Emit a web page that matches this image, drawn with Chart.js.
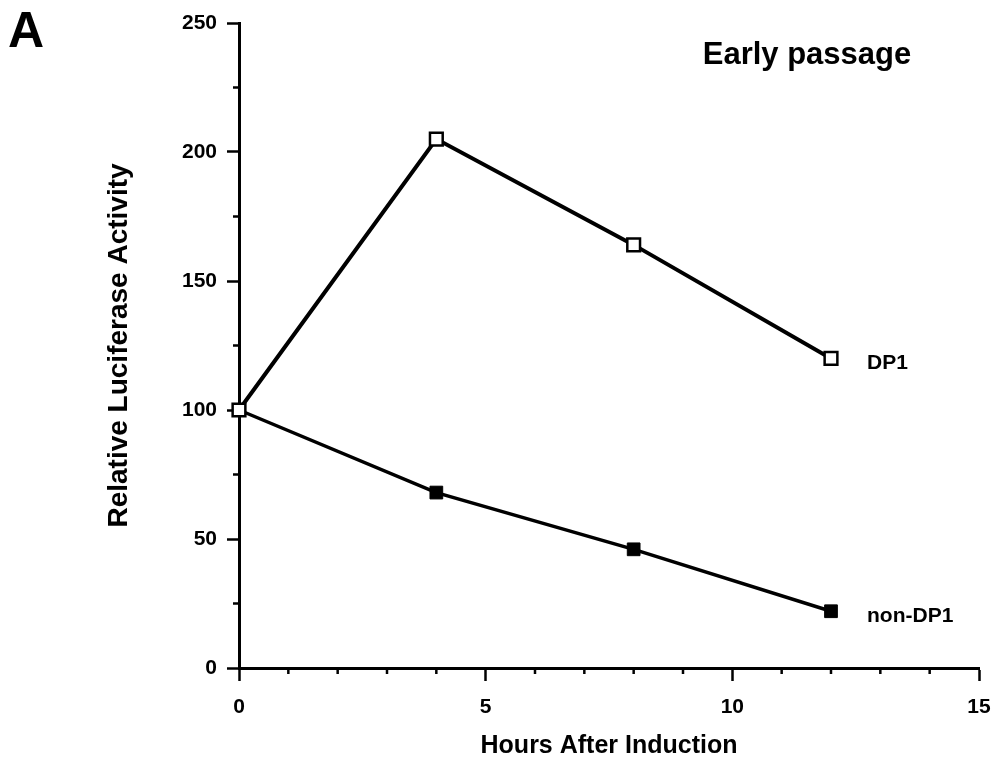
<!DOCTYPE html>
<html>
<head>
<meta charset="utf-8">
<script src="https://cdn.jsdelivr.net/npm/chart.js@4/dist/chart.umd.min.js"></script>
<style>
  html, body { margin: 0; padding: 0; background: #fff; }
  #wrap { position: relative; width: 1000px; height: 765px; }
</style>
</head>
<body>
<div id="wrap"><canvas id="myChart" width="1000" height="765"></canvas></div>
<script>
const hours = [0, 4, 8, 12];
const dp1 = [100, 205, 164, 120];
const nonDp1 = [100, 68, 46, 22];
const seriesNames = ['DP1', 'non-DP1'];
const xTicks = [0, 5, 10, 15];
const yTicks = [0, 50, 100, 150, 200, 250];

const FONT = '"Liberation Sans", Arial, Helvetica, sans-serif';

function toPoints(xs, ys) {
    return xs.map((x, i) => ({ x: x, y: ys[i] }));
}

// small outward minor ticks + text labels
const extras = {
    id: 'extras',
    afterDraw(chart) {
        const ctx = chart.ctx;
        const xs = chart.scales.x;
        const ys = chart.scales.y;
        const area = chart.chartArea;
        ctx.save();
        ctx.strokeStyle = '#000';
        ctx.lineWidth = 2.5;
        for (let v = xs.min; v <= xs.max; v += 1) {
            if (xTicks.includes(v)) continue;
            const px = xs.getPixelForValue(v);
            ctx.beginPath();
            ctx.moveTo(px, area.bottom);
            ctx.lineTo(px, area.bottom + 6);
            ctx.stroke();
        }
        for (let v = ys.min; v <= ys.max; v += 25) {
            if (yTicks.includes(v)) continue;
            const py = ys.getPixelForValue(v);
            ctx.beginPath();
            ctx.moveTo(area.left, py);
            ctx.lineTo(area.left - 6, py);
            ctx.stroke();
        }

        // series labels next to last point
        ctx.fillStyle = '#000';
        ctx.font = 'bold 21px ' + FONT;
        ctx.textAlign = 'left';
        ctx.textBaseline = 'middle';
        chart.data.datasets.forEach((ds, i) => {
            const meta = chart.getDatasetMeta(i);
            const last = meta.data[meta.data.length - 1];
            ctx.fillText(seriesNames[i], last.x + 36, last.y + 5);
        });

        ctx.font = 'bold 31px ' + FONT;
        ctx.textAlign = 'center';
        ctx.fillText('Early passage', area.right - 172, area.top + 32);

        ctx.font = 'bold 50px ' + FONT;
        ctx.textAlign = 'left';
        ctx.textBaseline = 'alphabetic';
        ctx.fillText('A', 8, 47);
        ctx.restore();
    }
};

var ctx = document.getElementById('myChart').getContext('2d');

var myChart = new Chart(ctx, { // eslint-disable-line
    type: 'line',
    data: {
        datasets: [
            {
                label: seriesNames[0],
                data: toPoints(hours, dp1),
                borderColor: '#000',
                borderWidth: 4,
                pointStyle: 'rect',
                pointRadius: 9,
                pointBorderWidth: 2.5,
                pointBackgroundColor: '#fff',
                pointBorderColor: '#000',
                tension: 0,
                clip: false
            },
            {
                label: seriesNames[1],
                data: toPoints(hours, nonDp1),
                borderColor: '#000',
                borderWidth: 3.5,
                pointStyle: 'rect',
                pointRadius: 9,
                pointBorderWidth: 1,
                pointBackgroundColor: '#000',
                pointBorderColor: '#000',
                tension: 0,
                clip: false
            }
        ]
    },
    options: {
        responsive: false,
        animation: false,
        layout: { padding: { top: 23, right: 21, left: 0, bottom: 0 } },
        plugins: {
            legend: { display: false },
            tooltip: { enabled: false }
        },
        scales: {
            x: {
                type: 'linear',
                min: 0,
                max: 15,
                afterFit(scale) {
                    scale.height = 97;
                    scale.paddingLeft = 0;
                    scale.paddingRight = 0;
                },
                afterBuildTicks(scale) { scale.ticks = xTicks.map(v => ({ value: v })); },
                border: { display: true, color: '#000', width: 3 },
                grid: { drawOnChartArea: false, drawTicks: true, tickLength: 13, tickColor: '#000', tickWidth: 2.5 },
                ticks: { color: '#000', font: { family: FONT, size: 21, weight: 'bold' }, padding: 14, maxRotation: 0 },
                title: {
                    display: true,
                    text: 'Hours After Induction',
                    color: '#000',
                    font: { family: FONT, size: 25, weight: 'bold' },
                    padding: { top: 0, bottom: 4 }
                }
            },
            y: {
                min: 0,
                max: 250,
                afterFit(scale) {
                    scale.width = 239;
                    scale.paddingTop = 0;
                    scale.paddingBottom = 0;
                },
                afterBuildTicks(scale) { scale.ticks = yTicks.map(v => ({ value: v })); },
                border: { display: true, color: '#000', width: 3 },
                grid: { drawOnChartArea: false, drawTicks: true, tickLength: 12, tickColor: '#000', tickWidth: 2.5 },
                ticks: { color: '#000', font: { family: FONT, size: 21, weight: 'bold' }, padding: 10 },
                title: {
                    display: true,
                    text: 'Relative Luciferase Activity',
                    color: '#000',
                    font: { family: FONT, size: 28, weight: 'bold' },
                    padding: { top: 102, bottom: 0 }
                }
            }
        }
    },
    plugins: [extras]
});
</script>
</body>
</html>
